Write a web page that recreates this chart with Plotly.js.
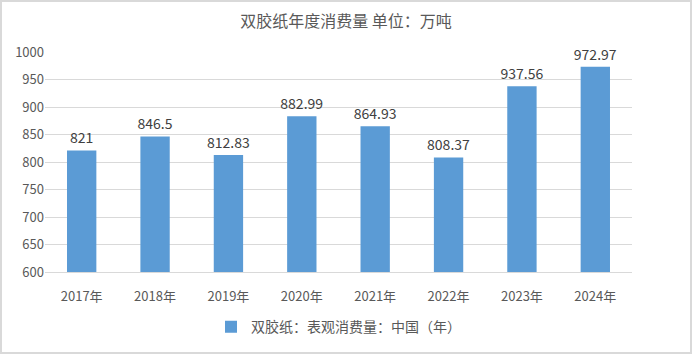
<!DOCTYPE html>
<html><head><meta charset="utf-8">
<script src="https://cdn.plot.ly/plotly-3.0.1.min.js"></script>
<style>
html,body{margin:0;padding:0;background:#fff;}
#wrap{position:relative;width:692px;height:354px;}
#chart{width:692px;height:354px;}
#frame{position:absolute;left:0;top:0;width:692px;height:354px;box-sizing:border-box;border:2px solid #d9d9d9;pointer-events:none;}
</style></head>
<body>
<div id="wrap"><div id="chart"></div><div id="frame"></div></div>
<script>
const years = ['2017年','2018年','2019年','2020年','2021年','2022年','2023年','2024年'];
const consumption = [821, 846.5, 812.83, 882.99, 864.93, 808.37, 937.56, 972.97];
const labels = ['821','846.5','812.83','882.99','864.93','808.37','937.56','972.97'];
const seriesName = '双胶纸：表观消费量：中国（年）';
const titleText = '双胶纸年度消费量 单位：万吨';

const numFont = 'Liberation Sans Narrow, Noto Sans CJK SC, sans-serif';
const cjkFont = 'Noto Sans CJK SC, sans-serif';

Plotly.newPlot('chart', [{
  type: 'bar',
  x: years,
  y: consumption,
  name: seriesName,
  marker: {color: '#5B9BD5'},
  text: labels,
  textposition: 'outside',
  constraintext: 'none',
  cliponaxis: false,
  textfont: {family: numFont, size: 14, color: '#404040'},
  showlegend: true
}], {
  width: 692, height: 354,
  margin: {l: 45, r: 60, t: 52, b: 81},
  paper_bgcolor: '#fff', plot_bgcolor: '#fff',
  title: {text: titleText, x: 0.5, xanchor: 'center', y: 0.94, yanchor: 'middle',
          font: {family: cjkFont, size: 16, color: '#595959'}},
  bargap: 0.6,
  xaxis: {type: 'category', tickfont: {family: numFont, size: 13, color: '#595959'},
          showline: true, linecolor: '#d9d9d9', ticks: '', ticklabelstandoff: 12, fixedrange: true},
  yaxis: {range: [600, 1000], dtick: 50, gridcolor: '#d9d9d9', zeroline: false,
          tickfont: {family: numFont, size: 13, color: '#595959'}, ticks: '', showline: false},
  showlegend: true,
  legend: {orientation: 'h', x: 0.5, xanchor: 'center', y: -0.245, yanchor: 'middle',
           font: {family: cjkFont, size: 14, color: '#595959'}}
}, {displayModeBar: false, staticPlot: true});
</script>
</body></html>
